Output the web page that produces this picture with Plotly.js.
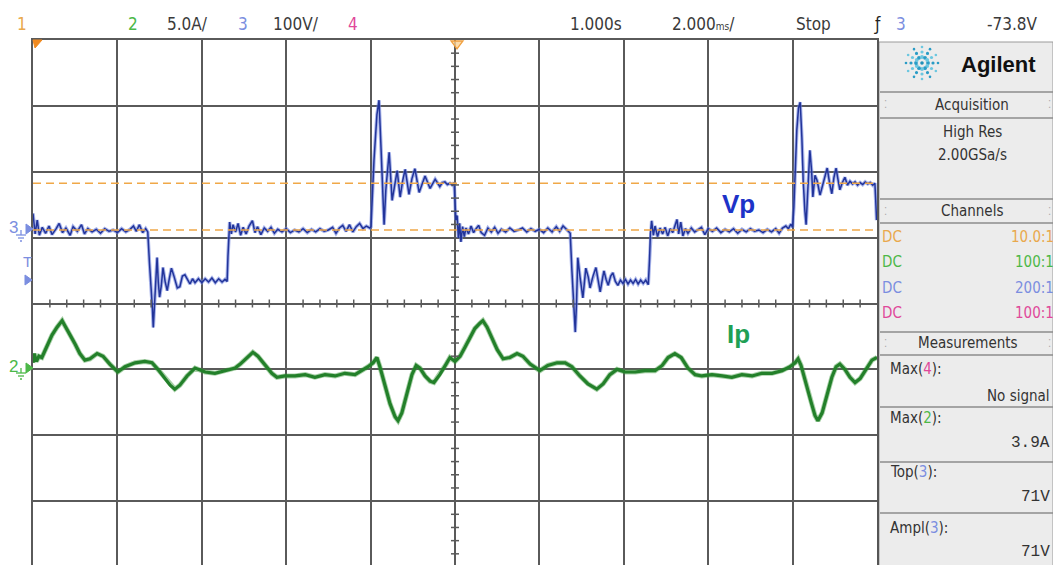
<!DOCTYPE html>
<html><head><meta charset="utf-8">
<script src="https://cdn.plot.ly/plotly-3.0.1.min.js"></script>
<style>html,body{margin:0;padding:0;overflow:hidden;background:#fff}#chart{width:1053px;height:570px}</style>
</head><body><div id="chart"></div><script>
// ---- Data (time in ms relative to the 1.000 s delay, 2 ms/div) ----
const vpTime = [
 -10.00,-9.95,-9.90,-9.85,-9.78,-9.70,-9.62,-9.55,-9.45,-9.38,
 -9.30,-9.22,-9.12,-9.05,-8.95,-8.85,-8.78,-8.70,-8.60,-8.50,
 -8.40,-8.30,-8.20,-8.10,-8.00,-7.90,-7.80,-7.70,-7.62,-7.55,
 -7.48,-7.40,-7.33,-7.28,
 -7.24,-7.20,-7.17,-7.15,-7.12,-7.08,-7.06,-7.03,-7.00,-6.96,
 -6.92,-6.87,-6.82,-6.77,-6.72,-6.66,-6.58,-6.52,-6.46,-6.40,
 -6.34,-6.28,-6.22,-6.16,-6.08,-6.00,-5.92,-5.84,-5.76,-5.68,
 -5.60,-5.52,-5.45,-5.40,-5.38,-5.36,
 -5.34,-5.30,-5.26,-5.20,-5.14,-5.08,-5.02,-4.95,-4.88,-4.80,
 -4.74,-4.68,-4.60,-4.52,-4.44,-4.36,-4.28,-4.20,-4.10,-4.00,
 -3.90,-3.80,-3.70,-3.60,-3.50,-3.40,-3.30,-3.20,-3.10,-3.00,
 -2.90,-2.82,-2.74,-2.66,-2.58,-2.50,-2.42,-2.34,-2.26,-2.18,
 -2.10,-2.02,
 -1.99,-1.97,-1.92,-1.85,-1.80,-1.75,-1.71,-1.68,-1.64,-1.56,
 -1.49,-1.42,-1.37,-1.30,-1.24,-1.18,-1.09,-1.02,-0.95,-0.85,
 -0.78,-0.71,-0.59,-0.47,-0.36,-0.30,-0.24,-0.18,-0.12,-0.06,
 -0.02,
 0.00,0.02,0.05,0.08,0.11,0.14,0.18,0.22,0.26,0.32,
 0.38,0.44,0.50,0.56,0.62,0.70,0.78,0.86,0.94,1.02,
 1.10,1.20,1.30,1.40,1.50,1.60,1.70,1.80,1.90,2.00,
 2.10,2.20,2.30,2.40,2.48,2.56,2.64,2.70,
 2.73,2.77,2.81,2.85,2.88,2.91,2.96,3.03,3.10,3.16,
 3.20,3.27,3.34,3.40,3.44,3.50,3.53,3.58,3.63,3.69,
 3.74,3.80,3.86,3.92,3.98,4.04,4.10,4.16,4.22,4.28,
 4.34,4.40,4.46,4.52,4.58,4.61,4.63,
 4.66,4.70,4.74,4.80,4.86,4.92,4.98,5.04,5.10,5.16,
 5.22,5.26,5.30,5.35,5.40,5.46,5.52,5.60,5.68,5.76,
 5.84,5.92,6.00,6.10,6.20,6.30,6.40,6.50,6.60,6.70,
 6.80,6.90,7.00,7.10,7.20,7.30,7.40,7.50,7.60,7.68,
 7.76,7.84,7.90,7.96,8.00,
 8.03,8.07,8.10,8.14,8.18,8.22,8.25,8.29,8.32,8.36,
 8.41,8.45,8.48,8.53,8.58,8.65,8.72,8.78,8.82,8.88,
 8.93,8.98,9.03,9.08,9.12,9.18,9.24,9.30,9.36,9.42,
 9.48,9.54,9.60,9.66,9.72,9.78,9.84,9.90,9.95,9.97,
 9.99
];
const vpVolts = [
 25,-6,15,-8,4,-5,6,-7,2,10,
 -4,3,-8,5,-2,8,-6,2,-3,1,
 -5,2,-2,0,-4,2,-3,1,6,-2,
 8,-4,2,-3,
 -50,-85,-120,-148,-110,-55,-42,-80,-102,-85,
 -57,-78,-92,-74,-58,-70,-88,-86,-70,-68,
 -76,-82,-74,-80,-74,-80,-74,-79,-73,-80,
 -74,-79,-75,-78,-40,-5,
 12,-6,8,-3,10,-8,4,-6,6,14,
 -4,5,-7,3,-2,4,-5,1,-3,2,
 -4,0,-3,2,-4,1,-3,2,-2,0,
 4,-5,3,7,-2,8,-3,5,10,2,
 6,3,
 5,35,106,175,197,120,40,8,60,118,
 45,70,90,50,75,92,54,78,93,57,
 70,82,63,77,66,72,73,69,71,68,
 72,
 40,15,22,-12,10,-18,5,-10,3,-6,
 6,-4,2,7,-4,-8,3,-3,4,-5,
 1,-3,3,-2,0,3,-3,2,-2,1,
 -4,3,-3,5,-2,6,1,-3,
 -5,-61,-120,-155,-110,-42,-70,-103,-58,-72,
 -88,-70,-57,-80,-94,-72,-62,-75,-84,-70,
 -65,-78,-84,-76,-81,-75,-82,-76,-81,-75,
 -82,-76,-81,-76,-83,-45,-5,
 14,-8,6,-10,3,-6,4,-9,2,-4,
 8,16,-6,12,-9,2,-5,3,-3,1,
 4,-7,2,-2,3,-4,1,-3,2,-5,
 1,-3,2,-2,0,-4,1,-3,2,-5,
 3,6,2,9,4,
 35,110,152,185,194,140,76,30,8,60,
 121,90,50,83,75,53,70,85,94,70,
 55,80,94,75,61,72,80,68,74,70,
 73,68,72,69,73,70,72,68,71,45,
 15
];
const ipTime = [
 -10.00,-9.97,-9.92,-9.86,-9.79,-9.67,-9.55,-9.43,-9.35,-9.31,
 -9.26,-9.18,-9.12,-9.00,-8.89,-8.77,-8.65,-8.48,-8.34,-8.18,
 -7.99,-7.82,-7.58,-7.35,-7.18,-7.04,-6.87,-6.75,-6.64,-6.52,
 -6.35,-6.16,-5.92,-5.69,-5.45,-5.21,-5.09,-4.93,-4.79,-4.67,
 -4.50,-4.34,-4.22,-4.03,-3.79,-3.55,-3.32,-3.08,-2.84,-2.61,
 -2.37,-2.20,-2.06,-1.94,-1.85,-1.78,-1.66,-1.54,-1.42,-1.35,
 -1.26,-1.14,-1.02,-0.92,-0.83,-0.71,-0.59,-0.50,-0.36,-0.21,
 -0.12,0.00,0.12,0.24,0.36,0.47,0.59,0.66,0.76,0.88,
 1.00,1.14,1.30,1.47,1.61,1.78,2.01,2.20,2.42,2.61,
 2.77,2.96,3.15,3.36,3.51,3.67,3.84,4.03,4.27,4.50,
 4.74,4.91,5.05,5.21,5.36,5.52,5.69,5.85,6.09,6.33,
 6.56,6.80,7.04,7.27,7.51,7.75,7.94,8.06,8.13,8.20,
 8.32,8.44,8.53,8.60,8.70,8.82,8.93,9.03,9.12,9.24,
 9.36,9.48,9.60,9.74,9.88,10.00
];
const ipAmps = [
 0.5,1.2,0.6,1.0,0.9,1.8,2.6,3.2,3.5,3.7,
 3.4,3.0,2.6,1.9,1.2,0.7,0.8,1.2,1.0,0.4,
 -0.2,0.2,0.5,0.6,0.5,0.0,-0.7,-1.2,-1.5,-1.2,
 -0.5,0.1,-0.2,-0.3,-0.1,0.1,0.4,0.9,1.3,1.0,
 0.3,-0.3,-0.6,-0.5,-0.5,-0.4,-0.6,-0.4,-0.5,-0.3,
 -0.4,-0.1,0.2,0.5,0.9,0.2,-1.2,-2.6,-3.6,-3.9,
 -3.3,-1.8,-0.4,0.3,0.1,-0.5,-0.9,-1.0,-0.4,0.4,
 0.9,0.6,1.0,1.7,2.5,3.1,3.5,3.7,3.2,2.4,
 1.5,0.8,0.9,1.2,1.0,0.4,-0.1,0.3,0.5,0.5,
 0.2,-0.5,-1.1,-1.5,-1.1,-0.4,0.0,-0.2,-0.2,-0.1,
 -0.1,0.3,0.9,1.2,0.9,0.1,-0.4,-0.5,-0.4,-0.5,
 -0.6,-0.4,-0.5,-0.3,-0.3,-0.1,0.2,0.5,0.8,0.3,
 -1.0,-2.5,-3.5,-3.9,-3.3,-1.9,-0.6,0.2,0.4,0.0,
 -0.6,-1.0,-0.7,0.0,0.7,0.9
];
const measLevels = [71, 0];            // orange cursors: Top(3) and base, volts
const topBarLabels = ['1','2','5.0A/','3','100V/','4','1.000s','2.000<span style="font-size:10px">ms</span>/','Stop','ƒ','3','-73.8V'];
const channelCoupling = ['DC','DC','DC','DC'];
const channelRatios = ['10.0:1','100:1','200:1','100:1'];
const measNames = ['Max(4):','Max(2):','Top(3):','Ampl(3):'];
const measValues = ['No signal','3.9A','71V','71V'];
const traceNames = ['Vp','Ip'];

// ---- Geometry helpers (pixel -> paper) ----
const L=33, R=877, T=40, B=567, W=1053, H=570;
const px = x => (x-L)/(R-L);
const py = y => (B-y)/(B-T);
const FN = "'Liberation Sans Narrow','DejaVu Sans Condensed','Roboto Condensed','Liberation Sans',sans-serif";
const FS = "'Liberation Sans',Arial,sans-serif";
const FM = "'Liberation Mono','DejaVu Sans Mono',monospace";
const chColors = ['#e9a84c','#4cb848','#7b8ee0','#e0489a'];
const GRID = '#5a5a5a';

const ann = [];
function A(text, x, y, size, color, xa, fam){
  ann.push({text:text, x:px(x), y:py(y), xref:'paper', yref:'paper', showarrow:false,
    xanchor:xa||'center', yanchor:'middle', font:{family:fam||FN, size:size, color:color}});
}
const shapes = [];
function path(pts, color, fill, w){
  let d = pts.map((p,i)=>(i?'L':'M')+px(p[0]).toFixed(5)+','+py(p[1]).toFixed(5)).join(' ');
  if(fill) d += ' Z';
  shapes.push({type:'path', xref:'paper', yref:'paper', path:d, line:{color:color, width:w||1.5}, fillcolor:fill||'rgba(0,0,0,0)', layer:'above'});
}
function seg(x0,y0,x1,y1,color,w){
  shapes.push({type:'line', xref:'paper', yref:'paper', x0:px(x0), y0:py(y0), x1:px(x1), y1:py(y1), line:{color:color, width:w||1.5}, layer:'above'});
}
function dot(cx,cy,r,color){
  shapes.push({type:'circle', xref:'paper', yref:'paper', x0:px(cx-r), x1:px(cx+r), y0:py(cy+r), y1:py(cy-r), fillcolor:color, line:{width:0}, layer:'above'});
}

// orange cursor lines
measLevels.forEach(v => shapes.push({type:'line', xref:'paper', yref:'y2', x0:0, x1:1, y0:v, y1:v,
  line:{color:'#f0a848', width:1.6, dash:'8px,5px'}, layer:'above'}));

// center-axis minor ticks
const cx0 = (L+R)/2, cy0 = (T+B)/2;
for(let k=-25;k<=25;k++){ if(k%5===0) continue; const x=cx0+k*(R-L)/50; seg(x,cy0-4,x,cy0+4,GRID,1.5); }
for(let k=-20;k<=20;k++){ if(k%5===0) continue; const y=cy0+k*(B-T)/40; seg(cx0-4,y,cx0+4,y,GRID,1.5); }

// right panel
shapes.push({type:'rect', xref:'paper', yref:'paper', x0:px(879), x1:px(1053), y0:py(566), y1:py(42), fillcolor:'#ececec', line:{color:'#9a9a9a', width:1}, layer:'above'});
seg(878,40,878,567,'#555',2);
[92,118,199,223,332,355,407,462,513].forEach(y=>seg(880,y,1053,y,'#8c8c8c',1.5));
// Agilent spark logo
dot(922,63,1.8,'#1f8fb8');
for(let i=0;i<12;i++){ const a=i*Math.PI/6; [6,11,16].forEach((r,j)=>dot(922+r*Math.cos(a),63+r*Math.sin(a),[1.9,1.6,1.3][j], (i%2)?'#6cc7e0':'#2a9cc6')); }
A('<b>Agilent</b>', 998, 64, 22, '#111', 'center', FS);
A('Acquisition', 972, 105, 15, '#333');
A('High Res', 972, 132, 15, '#333');
A('2.00GSa/s', 972, 155, 15, '#333');
A('Channels', 972, 211, 15, '#333');
A('Measurements', 968, 343, 15, '#333');
[105,211,343].forEach(y=>{ A('⁚',886,y,11,'#aaa'); A('⁚',1049,y,11,'#aaa'); });
const rowY=[237,262,288,313];
channelCoupling.forEach((c,i)=>{ A(c, 880, rowY[i], 15, chColors[i], 'left'); A(channelRatios[i], 1056, rowY[i], 15, chColors[i], 'right'); });
const nameY=[369,418,472,528], valY=[396,443,497,552];
measNames.forEach((n,i)=>{
  const t = n.replace(/\((\d)\)/, (m,d)=>'(<span style="color:'+chColors[+d-1]+'">'+d+'</span>)');
  A(t, 888, nameY[i], 15, '#333', 'left');
  A(measValues[i], 1052, valY[i], i===0?15:16, '#333', 'right', i===0?FN:FM);
});

// top bar
const topX=[22,133,187,243,296,353,596,703,813,877,901,1012];
const topC=[chColors[0],chColors[1],'#3a3a3a',chColors[2],'#3a3a3a',chColors[3],'#3a3a3a','#3a3a3a','#3a3a3a','#222',chColors[2],'#3a3a3a'];
topBarLabels.forEach((t,i)=>A(t, topX[i], 24, 17, topC[i]));

// left channel markers
A('3', 13, 228, 17, chColors[2], 'center', FS);
seg(21,230,21,235,chColors[2],1.3); seg(16,235,26,235,chColors[2],1.3); seg(18,238,24,238,chColors[2],1.3); seg(20,241,22,241,chColors[2],1.3);
path([[26,224],[33,229],[26,234]], chColors[2], chColors[2], 1);
A('T', 27, 261, 15, chColors[2], 'center', FS);
path([[25,275],[32,280],[25,285]], chColors[2], chColors[2], 1);
A('2', 13, 366, 17, chColors[1], 'center', FS);
seg(21,368,21,373,chColors[1],1.3); seg(16,373,26,373,chColors[1],1.3); seg(18,376,24,376,chColors[1],1.3); seg(20,379,22,379,chColors[1],1.3);
path([[26,363],[33,368],[26,373]], chColors[1], chColors[1], 1);
// orange markers at top
path([[33,40],[42,40],[35,48]], '#f08a20', '#f08a20', 1);
path([[451,41],[463,41],[457,49]], '#f0a040', 'rgba(250,210,150,0.8)', 1.3);

// trace labels
A('<b>'+traceNames[0]+'</b>', 738, 204, 26, '#1d33c8', 'center', FS);
A('<b>'+traceNames[1]+'</b>', 738, 334, 26, '#1fa055', 'center', FS);

const traces = [
  {x:ipTime, y:ipAmps, yaxis:'y', mode:'lines', line:{color:'rgba(60,150,60,0.45)', width:5}, hoverinfo:'skip'},
  {x:ipTime, y:ipAmps, yaxis:'y', mode:'lines', line:{color:'#23802a', width:3.2}, name:'Ip'},
  {x:vpTime, y:vpVolts, yaxis:'y2', mode:'lines', line:{color:'rgba(110,130,220,0.6)', width:3.5}, hoverinfo:'skip'},
  {x:vpTime, y:vpVolts, yaxis:'y2', mode:'lines', line:{color:'#22349a', width:1.5}, name:'Vp'}
];
const ax = {showgrid:true, gridcolor:GRID, gridwidth:2, zeroline:false, showticklabels:false, ticks:'',
  showline:true, linecolor:GRID, linewidth:2, mirror:true, fixedrange:true};
const layout = {
  width:W, height:H, margin:{l:L, r:W-R, t:T, b:H-B}, paper_bgcolor:'#fff', plot_bgcolor:'#fff',
  showlegend:false,
  xaxis:Object.assign({}, ax, {range:[-10,10], tick0:-10, dtick:2}),
  yaxis:Object.assign({}, ax, {range:[-15,25], tick0:-15, dtick:5}),
  yaxis2:{overlaying:'y', range:[-511.6,288.4], showgrid:false, zeroline:false, showticklabels:false, ticks:'', showline:false, fixedrange:true},
  shapes:shapes, annotations:ann
};
Plotly.newPlot('chart', traces, layout, {staticPlot:true, displayModeBar:false});
</script></body></html>
